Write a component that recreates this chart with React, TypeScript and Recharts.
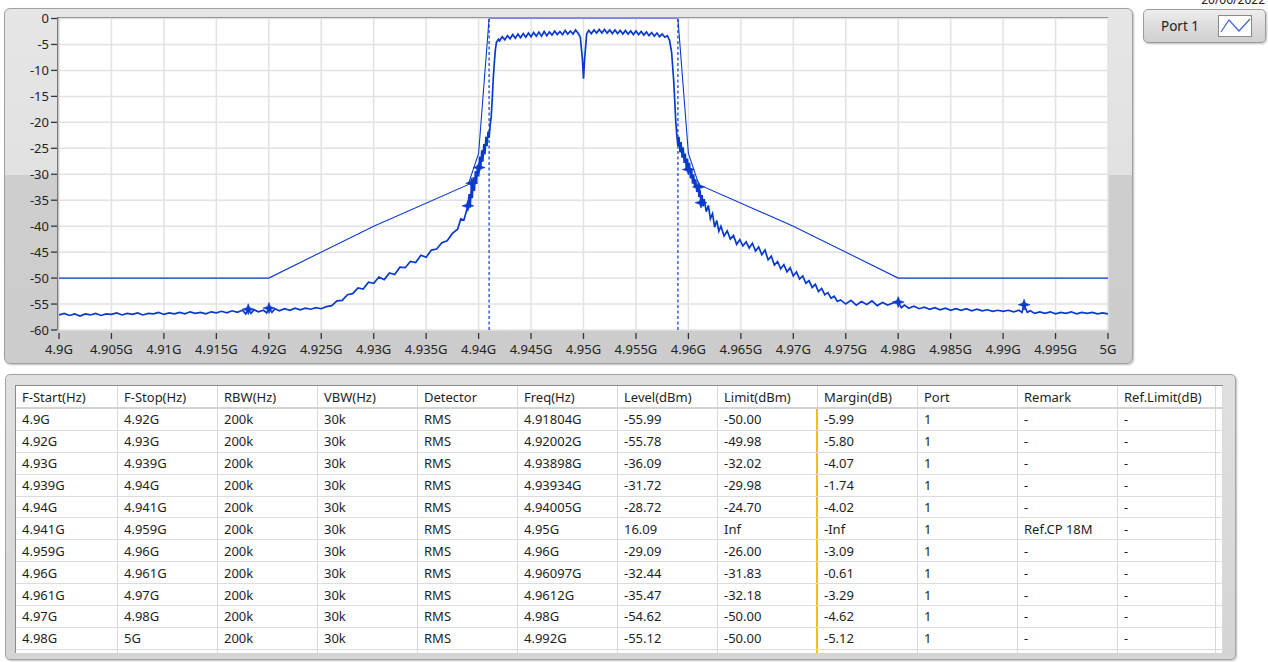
import React from "react";
import {
  CartesianGrid,
  ComposedChart,
  Line,
  ReferenceLine,
  Scatter,
  XAxis,
  YAxis,
} from "recharts";

const FONT = '"Noto Sans", "Open Sans", sans-serif';
const BLUE = "#0a3acd";

// axis ticks (GHz / dBm)
const freqTicks = [
  4.9, 4.905, 4.91, 4.915, 4.92, 4.925, 4.93, 4.935, 4.94, 4.945, 4.95,
  4.955, 4.96, 4.965, 4.97, 4.975, 4.98, 4.985, 4.99, 4.995, 5.0,
];
const levelTicks = [0, -5, -10, -15, -20, -25, -30, -35, -40, -45, -50, -55, -60];

// limit mask [freq GHz, dBm]
const maskPoints: [number, number][] = [
  [4.9, -50], [4.92, -50], [4.93, -40], [4.939, -32], [4.94, -26], [4.941, 0],
  [4.959, 0], [4.96, -26], [4.961, -32], [4.97, -40], [4.98, -50], [5.0, -50],
];

// channel power edges (dashed)
const cpEdges = [4.941, 4.959];

const tracePoints: [number, number][] = [
  [4.9, -57.1], [4.9005, -56.8], [4.901, -57.2], [4.9015, -56.9], [4.902, -57.3],
  [4.9025, -56.9], [4.903, -57.1], [4.9035, -56.8], [4.904, -57.2], [4.9045, -56.9],
  [4.905, -57.0], [4.9055, -56.7], [4.906, -57.1], [4.9065, -56.8], [4.907, -57.0],
  [4.9075, -56.7], [4.908, -57.1], [4.9085, -56.8], [4.909, -56.9], [4.9095, -56.6],
  [4.91, -57.0], [4.9105, -56.7], [4.911, -56.9], [4.9115, -56.6], [4.912, -56.9],
  [4.9125, -56.5], [4.913, -56.8], [4.9135, -56.6], [4.914, -56.9], [4.9145, -56.5],
  [4.915, -56.7], [4.9155, -56.4], [4.916, -56.7], [4.9165, -56.3], [4.917, -56.6],
  [4.9175, -56.2], [4.9178, -56.9], [4.91804, -55.99], [4.9183, -56.8], [4.9186, -56.1],
  [4.919, -56.5], [4.9195, -56.2], [4.9198, -56.7], [4.92002, -55.78], [4.9203, -56.6],
  [4.9206, -55.9], [4.921, -56.3], [4.9215, -55.9], [4.922, -56.2], [4.9225, -55.8],
  [4.923, -56.1], [4.9235, -55.8], [4.924, -56.0], [4.9245, -55.7], [4.925, -55.9],
  [4.9255, -55.5], [4.926, -55.3], [4.9265, -54.4], [4.927, -54.3], [4.9275, -53.2],
  [4.928, -53.0], [4.9285, -51.9], [4.929, -52.1], [4.9295, -50.8], [4.93, -51.0],
  [4.9305, -49.8], [4.931, -50.3], [4.9315, -49.0], [4.932, -49.3], [4.9325, -47.9],
  [4.933, -48.0], [4.9335, -46.8], [4.934, -47.0], [4.9345, -45.6], [4.935, -46.0],
  [4.9355, -44.6], [4.936, -44.4], [4.9365, -43.2], [4.937, -42.8], [4.9375, -41.4],
  [4.938, -40.6], [4.9383, -38.6], [4.9386, -38.8], [4.93898, -36.09], [4.9391, -33.8],
  [4.9392, -36.4], [4.9393, -32.6], [4.93934, -31.72], [4.9394, -34.6], [4.9395, -30.6],
  [4.9396, -33.2], [4.9397, -29.4], [4.9398, -31.8], [4.9399, -28.2], [4.94, -30.4],
  [4.94005, -28.72], [4.9401, -26.6], [4.9402, -29.0], [4.9403, -25.4], [4.9404, -27.6],
  [4.9405, -24.2], [4.9406, -26.2], [4.9407, -22.8], [4.9408, -24.6], [4.9409, -21.8],
  [4.941, -23.0], [4.9411, -20.6], [4.9412, -19.0], [4.9413, -15.5], [4.9414, -11.5],
  [4.9415, -8.5], [4.9416, -6.0], [4.9417, -4.6], [4.9419, -4.0],
  [4.942, -4.3], [4.94225, -3.5], [4.9425, -4.1], [4.94275, -3.3], [4.943, -3.9],
  [4.94325, -3.1], [4.9435, -3.8], [4.94375, -3.0], [4.944, -3.7], [4.94425, -2.9],
  [4.9445, -3.6], [4.94475, -2.8], [4.945, -3.5], [4.94525, -2.7], [4.9455, -3.4],
  [4.94575, -2.6], [4.946, -3.4], [4.94625, -2.5], [4.9465, -3.3], [4.94675, -2.6],
  [4.947, -3.2], [4.94725, -2.4], [4.9475, -3.1], [4.94775, -2.5], [4.948, -3.1],
  [4.94825, -2.3], [4.9485, -3.0], [4.94875, -2.4], [4.949, -3.0], [4.94925, -2.2],
  [4.9495, -2.9], [4.9497, -3.6], [4.9499, -8.0], [4.95, -11.6], [4.9501, -8.0],
  [4.9503, -3.0], [4.9505, -2.3], [4.95075, -2.9], [4.951, -2.2], [4.95125, -2.8],
  [4.9515, -2.1], [4.95175, -2.8], [4.952, -2.1], [4.95225, -2.8], [4.9525, -2.2],
  [4.95275, -2.9], [4.953, -2.2], [4.95325, -2.9], [4.9535, -2.3], [4.95375, -3.0],
  [4.954, -2.3], [4.95425, -3.0], [4.9545, -2.4], [4.95475, -3.1], [4.955, -2.4],
  [4.95525, -3.1], [4.9555, -2.5], [4.95575, -3.2], [4.956, -2.6], [4.95625, -3.3],
  [4.9565, -2.7], [4.95675, -3.4], [4.957, -2.8], [4.95725, -3.5], [4.9575, -3.0],
  [4.95775, -3.6], [4.958, -3.3], [4.9582, -4.2], [4.9584, -6.5], [4.9586, -12.0],
  [4.9587, -16.0], [4.9588, -20.0], [4.9589, -22.5], [4.959, -24.6], [4.9591, -22.8],
  [4.9592, -25.8], [4.9593, -23.8], [4.9594, -26.8], [4.9595, -24.8], [4.9596, -27.8],
  [4.9597, -26.0], [4.9598, -29.0], [4.9599, -27.0], [4.96, -29.09], [4.9601, -27.8],
  [4.9602, -30.8], [4.9603, -28.9], [4.9604, -31.8], [4.9605, -30.0], [4.9606, -32.6],
  [4.9607, -31.0], [4.9608, -33.4], [4.96097, -32.44], [4.961, -34.4], [4.9611, -33.0],
  [4.9612, -35.47], [4.9613, -34.0], [4.9614, -36.2], [4.9615, -34.8], [4.9617, -37.2],
  [4.9619, -36.0], [4.9621, -38.6], [4.9623, -37.6], [4.9625, -40.2], [4.9627, -38.9],
  [4.9629, -41.0], [4.9631, -40.0], [4.9634, -41.9], [4.9637, -40.9], [4.964, -42.5],
  [4.9643, -41.8], [4.9646, -43.5], [4.9649, -42.6], [4.9652, -43.8], [4.9655, -43.0],
  [4.9658, -44.2], [4.9661, -43.3], [4.9664, -44.8], [4.9667, -44.0], [4.967, -45.5],
  [4.9673, -44.6], [4.9676, -46.5], [4.9679, -45.8], [4.9682, -47.5], [4.9685, -46.8],
  [4.9688, -48.2], [4.9691, -47.4], [4.9694, -48.8], [4.9697, -48.0], [4.97, -49.6],
  [4.9703, -48.8], [4.9706, -50.2], [4.9709, -49.6], [4.9712, -51.0], [4.9715, -50.5],
  [4.9718, -51.8], [4.9721, -51.2], [4.9724, -52.6], [4.9727, -52.0], [4.973, -53.2],
  [4.9733, -52.8], [4.9736, -53.9], [4.9739, -53.5], [4.9742, -54.5], [4.9745, -54.2],
  [4.975, -55.0], [4.9755, -54.3], [4.976, -55.2], [4.9765, -54.5], [4.977, -55.1],
  [4.9775, -54.4], [4.978, -55.3], [4.9785, -54.7], [4.979, -55.2], [4.9795, -54.8],
  [4.98, -54.62], [4.9803, -55.7], [4.9806, -55.2], [4.981, -55.8], [4.9815, -55.4],
  [4.982, -55.9], [4.9825, -55.6], [4.983, -56.0], [4.9835, -55.7], [4.984, -56.1],
  [4.9845, -55.8], [4.985, -56.2], [4.9855, -55.9], [4.986, -56.2], [4.9865, -55.9],
  [4.987, -56.3], [4.9875, -56.0], [4.988, -56.3], [4.9885, -56.1], [4.989, -56.4],
  [4.9895, -56.2], [4.99, -56.4], [4.9905, -56.2], [4.991, -56.5], [4.9915, -56.2],
  [4.9918, -56.6], [4.992, -55.12], [4.9923, -56.6], [4.9926, -56.3], [4.993, -56.8],
  [4.9935, -56.5], [4.994, -56.8], [4.9945, -56.5], [4.995, -56.9], [4.9955, -56.6],
  [4.996, -56.8], [4.9965, -56.5], [4.997, -56.9], [4.9975, -56.6], [4.998, -56.8],
  [4.9985, -56.6], [4.999, -56.9], [4.9995, -56.7], [5.0, -56.9],
];

// peak markers per segment
const markerPoints: [number, number][] = [
  [4.91804, -55.99], [4.92002, -55.78], [4.93898, -36.09], [4.93934, -31.72],
  [4.94005, -28.72], [4.96, -29.09], [4.96097, -32.44], [4.9612, -35.47],
  [4.98, -54.62], [4.992, -55.12],
];

const tableHeaders = [
  "F-Start(Hz)", "F-Stop(Hz)", "RBW(Hz)", "VBW(Hz)", "Detector", "Freq(Hz)",
  "Level(dBm)", "Limit(dBm)", "Margin(dB)", "Port", "Remark", "Ref.Limit(dB)",
];
const tableRows = [
  ["4.9G", "4.92G", "200k", "30k", "RMS", "4.91804G", "-55.99", "-50.00", "-5.99", "1", "-", "-"],
  ["4.92G", "4.93G", "200k", "30k", "RMS", "4.92002G", "-55.78", "-49.98", "-5.80", "1", "-", "-"],
  ["4.93G", "4.939G", "200k", "30k", "RMS", "4.93898G", "-36.09", "-32.02", "-4.07", "1", "-", "-"],
  ["4.939G", "4.94G", "200k", "30k", "RMS", "4.93934G", "-31.72", "-29.98", "-1.74", "1", "-", "-"],
  ["4.94G", "4.941G", "200k", "30k", "RMS", "4.94005G", "-28.72", "-24.70", "-4.02", "1", "-", "-"],
  ["4.941G", "4.959G", "200k", "30k", "RMS", "4.95G", "16.09", "Inf", "-Inf", "1", "Ref.CP 18M", "-"],
  ["4.959G", "4.96G", "200k", "30k", "RMS", "4.96G", "-29.09", "-26.00", "-3.09", "1", "-", "-"],
  ["4.96G", "4.961G", "200k", "30k", "RMS", "4.96097G", "-32.44", "-31.83", "-0.61", "1", "-", "-"],
  ["4.961G", "4.97G", "200k", "30k", "RMS", "4.9612G", "-35.47", "-32.18", "-3.29", "1", "-", "-"],
  ["4.97G", "4.98G", "200k", "30k", "RMS", "4.98G", "-54.62", "-50.00", "-4.62", "1", "-", "-"],
  ["4.98G", "5G", "200k", "30k", "RMS", "4.992G", "-55.12", "-50.00", "-5.12", "1", "-", "-"],
];
const colWidths = [102, 100, 100, 100, 100, 100, 100, 100, 100, 100, 100, 98, 7];

const toXY = (pts: [number, number][]) => pts.map(([f, v]) => ({ f, v }));
const fmtFreq = (v: number) => `${+v.toFixed(3)}G`;

function FreqTick({ x, y, payload }: any) {
  return (
    <g>
      <line x1={x} x2={x} y1={y + 3} y2={y + 9} stroke="#333" strokeWidth={1.3} />
      <text x={x} y={y + 24} textAnchor="middle" fontSize={13} fill="#222" fontFamily={FONT}>
        {fmtFreq(payload.value)}
      </text>
    </g>
  );
}

function LevelTick({ x, y, payload }: any) {
  return (
    <g>
      <line x1={x - 8} x2={x - 2} y1={y} y2={y} stroke="#333" strokeWidth={1.3} />
      <text x={x - 10} y={y + 4.5} textAnchor="end" fontSize={13} fill="#222" fontFamily={FONT}>
        {payload.value}
      </text>
    </g>
  );
}

function StarMarker(p: any) {
  const { cx, cy } = p;
  if (cx == null || cy == null) return null;
  const d = `M${cx - 6},${cy}L${cx - 1.5},${cy - 1.5}L${cx},${cy - 5.5}L${cx + 1.5},${cy - 1.5}L${cx + 6},${cy}L${cx + 1.5},${cy + 1.5}L${cx},${cy + 5.5}L${cx - 1.5},${cy + 1.5}Z`;
  return <path d={d} fill={BLUE} stroke={BLUE} strokeWidth={0.6} />;
}

function ResultTable() {
  const cell = (text: string, ci: number, isHeader: boolean) => {
    const yellow = !isHeader && ci === 7;
    return (
      <div
        key={ci}
        style={{
          width: colWidths[ci],
          boxSizing: "border-box",
          paddingLeft: 6,
          borderRight: yellow ? "2px solid #f2c014" : "1px solid #d9d9d9",
          whiteSpace: "nowrap",
          overflow: "hidden",
          display: "flex",
          alignItems: "center",
        }}
      >
        {text}
      </div>
    );
  };
  const row = (cells: string[], key: string, h: number, isHeader: boolean) => (
    <div
      key={key}
      style={{
        display: "flex",
        height: h,
        boxSizing: "border-box",
        borderBottom: isHeader ? "2px solid #d3d3d3" : "1px solid #dcdcdc",
      }}
    >
      {[...cells, ""].map((t, ci) => cell(t, ci, isHeader))}
    </div>
  );
  return (
    <div
      style={{
        position: "absolute",
        left: 5,
        top: 374,
        width: 1231,
        height: 286,
        boxSizing: "border-box",
        borderRadius: 5,
        border: "1px solid #a3a3a3",
        background: "linear-gradient(#e0e0e0, #d4d4d4)",
        boxShadow: "1px 1px 2px #bdbdbd",
      }}
    >
      <div
        style={{
          position: "absolute",
          left: 9,
          top: 10,
          width: 1207,
          height: 267,
          background: "#fff",
          borderTop: "1px solid #8a8a8a",
          borderLeft: "1px solid #8a8a8a",
          overflow: "hidden",
          fontSize: 13,
          color: "#1e1e1e",
        }}
      >
        {row(tableHeaders, "h", 23, true)}
        {tableRows.map((r, i) => row(r, `r${i}`, 21.9, false))}
        {row(tableHeaders.map(() => ""), "e", 21.9, false)}
      </div>
    </div>
  );
}

export default function App() {
  return (
    <div
      style={{
        position: "absolute",
        left: 0,
        top: 0,
        width: 1268,
        height: 662,
        background: "#fff",
        overflow: "hidden",
        fontFamily: FONT,
      }}
    >
      {/* date, mostly hidden above the top edge as in the screenshot */}
      <div
        style={{
          position: "absolute",
          right: 3,
          top: -6,
          fontSize: 12,
          lineHeight: "12px",
          color: "#222",
        }}
      >
        20/06/2022
      </div>

      {/* graph frame */}
      <div
        style={{
          position: "absolute",
          left: 4,
          top: 8,
          width: 1129,
          height: 356,
          boxSizing: "border-box",
          borderRadius: 6,
          border: "1px solid #a0a0a0",
          background: "linear-gradient(#e6e6e6 0%, #e1e1e1 47%, #cecece 47%, #cccccc 100%)",
          boxShadow: "1px 1px 2px #bcbcbc",
        }}
      />
      <div
        style={{
          position: "absolute",
          left: 57,
          top: 17,
          width: 1051,
          height: 313,
          boxSizing: "border-box",
          background: "#fff",
          borderTop: "2px solid #7a7a7a",
          borderLeft: "2px solid #7a7a7a",
        }}
      />
      <div style={{ position: "absolute", left: 0, top: 0 }}>
        <ComposedChart
          width={1130}
          height={365}
          margin={{ top: 18.5, right: 22, bottom: 0, left: 0 }}
        >
          <CartesianGrid stroke="#e2e2e2" strokeWidth={1.5} />
          <XAxis
            type="number"
            dataKey="f"
            domain={[4.9, 5.0]}
            ticks={freqTicks}
            interval={0}
            allowDataOverflow
            height={35}
            axisLine={false}
            tickLine={false}
            tickSize={0}
            tickMargin={0}
            tick={<FreqTick />}
          />
          <YAxis
            type="number"
            dataKey="v"
            domain={[-60, 0]}
            ticks={levelTicks}
            interval={0}
            allowDataOverflow
            width={59}
            axisLine={false}
            tickLine={false}
            tickSize={0}
            tickMargin={0}
            tick={<LevelTick />}
          />
          {cpEdges.map((f) => (
            <ReferenceLine key={f} x={f} stroke={BLUE} strokeWidth={1.2} strokeDasharray="3 2.5" />
          ))}
          <Line
            data={toXY(maskPoints)}
            dataKey="v"
            type="linear"
            stroke={BLUE}
            strokeWidth={1.1}
            dot={false}
            isAnimationActive={false}
          />
          <Line
            data={toXY(tracePoints)}
            dataKey="v"
            type="linear"
            stroke={BLUE}
            strokeWidth={1.7}
            dot={false}
            isAnimationActive={false}
          />
          <Scatter
            data={toXY(markerPoints)}
            dataKey="v"
            fill={BLUE}
            shape={<StarMarker />}
            isAnimationActive={false}
          />
        </ComposedChart>
      </div>

      {/* legend */}
      <div
        style={{
          position: "absolute",
          left: 1143,
          top: 9,
          width: 123,
          height: 34,
          boxSizing: "border-box",
          borderRadius: 5,
          border: "1px solid #9c9c9c",
          background: "linear-gradient(#eeeeee, #dcdcdc 50%, #d0d0d0)",
          boxShadow: "1px 1px 2px #bbbbbb",
        }}
      >
        <span
          style={{
            position: "absolute",
            left: 17,
            top: 6,
            fontSize: 13.5,
            lineHeight: "20px",
            color: "#222",
          }}
        >
          Port 1
        </span>
        <svg
          width={34}
          height={22}
          style={{ position: "absolute", left: 74, top: 5 }}
        >
          <rect x={0.5} y={0.5} width={33} height={21} fill="#fff" stroke="#8a8a8a" />
          <polyline points="3,17 11,5 21,16 32,4" fill="none" stroke="#3d62dc" strokeWidth={1.2} />
        </svg>
      </div>

      <ResultTable />
    </div>
  );
}
